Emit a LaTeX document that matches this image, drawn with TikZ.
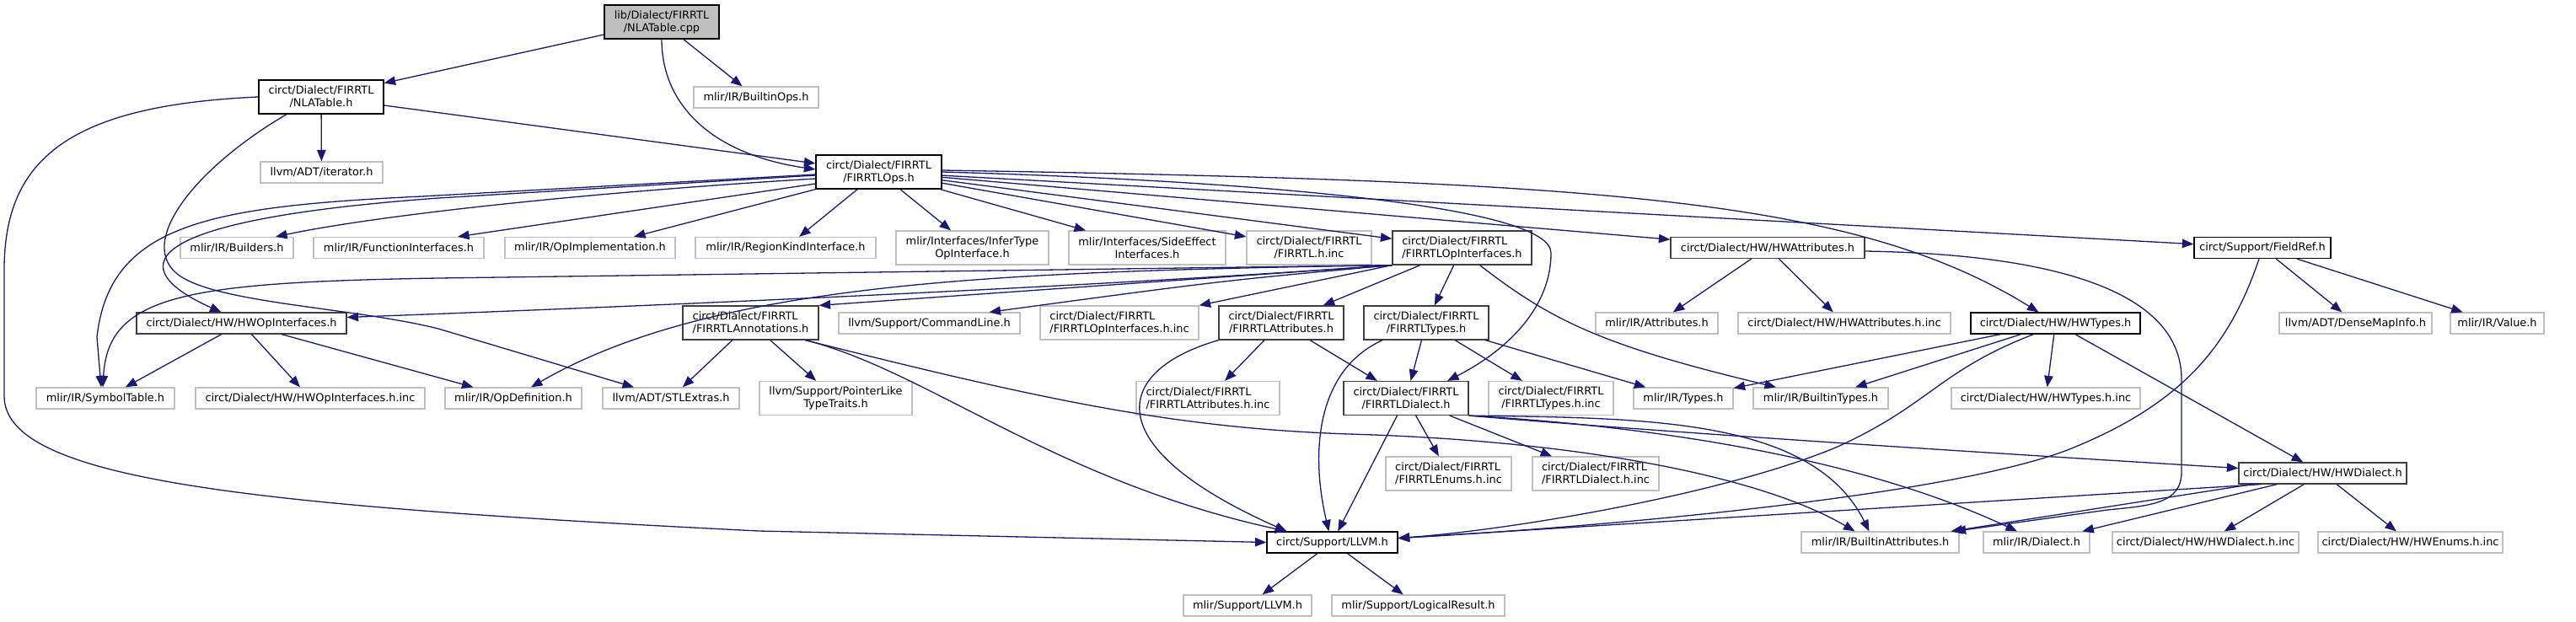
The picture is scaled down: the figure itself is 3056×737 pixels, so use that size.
\documentclass[tikz,border=0pt]{standalone}
\usepackage{fontspec}
\setmainfont{DejaVu Sans}
\usetikzlibrary{arrows.meta}
\definecolor{edgecol}{HTML}{191970}
\definecolor{lightbd}{HTML}{BFBFBF}
\definecolor{darkbd}{HTML}{404040}
\definecolor{rootfill}{HTML}{BFBFBF}
\newcommand{\nodefont}{\fontsize{12.9pt}{15pt}\selectfont}
\begin{document}
\begin{tikzpicture}[x=1pt,y=-1pt,
  nbase/.style={rectangle, inner sep=0pt, line width=1.25pt, font=\nodefont, align=center, text=black},
  gbox/.style={nbase, draw=lightbd},
  bbox/.style={nbase, draw=black},
  dbox/.style={nbase, draw=darkbd},
  rbox/.style={nbase, draw=black, fill=rootfill},
  one/.style={minimum height=25pt},
  two/.style={minimum height=40pt},
  conn/.style={draw=edgecol, line width=1.3pt, -{Triangle[length=13.5pt,width=10.5pt]}}]
\useasboundingbox (0,0) rectangle (3056,737);

% row 1-2
\node[rbox,two,minimum width=136pt] (root) at (785,26) {lib/Dialect/FIRRTL\\/NLATable.cpp};
\node[bbox,two,minimum width=148pt] (nla) at (381,115) {circt/Dialect/FIRRTL\\/NLATable.h};
\node[gbox,one,minimum width=145pt] (iter) at (381.5,204.5) {llvm/ADT/iterator.h};
\node[gbox,one,minimum width=148pt] (bops) at (897,115.5) {mlir/IR/BuiltinOps.h};
\node[bbox,two,minimum width=149pt] (ops) at (1042.5,204) {circt/Dialect/FIRRTL\\/FIRRTLOps.h};
% row 3
\node[gbox,one,minimum width=134pt] (builders) at (281,294) {mlir/IR/Builders.h};
\node[gbox,one,minimum width=202pt] (funcif) at (473,294) {mlir/IR/FunctionInterfaces.h};
\node[gbox,one,minimum width=202pt] (opimpl) at (700,294) {mlir/IR/OpImplementation.h};
\node[gbox,one,minimum width=214pt] (regkind) at (932,294) {mlir/IR/RegionKindInterface.h};
\node[gbox,two,minimum width=181pt] (infer) at (1153.5,294) {mlir/Interfaces/InferType\\OpInterface.h};
\node[gbox,two,minimum width=186pt] (sideeff) at (1361,294) {mlir/Interfaces/SideEffect\\Interfaces.h};
\node[gbox,two,minimum width=148pt] (firinc) at (1553,294) {circt/Dialect/FIRRTL\\/FIRRTL.h.inc};
\node[dbox,two,minimum width=165pt,align=left] (opif) at (1734.5,294) {circt/Dialect/FIRRTL\\/FIRRTLOpInterfaces.h};
\node[dbox,one,minimum width=230pt] (hwattr) at (2097,294) {circt/Dialect/HW/HWAttributes.h};
\node[bbox,one,minimum width=162pt] (fieldref) at (2684,294) {circt/Support/FieldRef.h};
% row 4
\node[dbox,one,minimum width=249pt] (hwopif) at (286.5,383.5) {circt/Dialect/HW/HWOpInterfaces.h};
\node[dbox,two,minimum width=161pt,align=left] (annot) at (890.5,383) {circt/Dialect/FIRRTL\\/FIRRTLAnnotations.h};
\node[gbox,one,minimum width=215pt] (cmdline) at (1102.5,383.5) {llvm/Support/CommandLine.h};
\node[gbox,two,minimum width=188pt,align=left] (opifinc) at (1328,383) {circt/Dialect/FIRRTL\\/FIRRTLOpInterfaces.h.inc};
\node[dbox,two,minimum width=148pt] (fattr) at (1520,383) {circt/Dialect/FIRRTL\\/FIRRTLAttributes.h};
\node[dbox,two,minimum width=148pt] (ftypes) at (1692,383) {circt/Dialect/FIRRTL\\/FIRRTLTypes.h};
\node[gbox,one,minimum width=145pt] (attrs) at (1965.5,383.5) {mlir/IR/Attributes.h};
\node[gbox,one,minimum width=252pt] (hwattrinc) at (2188,383.5) {circt/Dialect/HW/HWAttributes.h.inc};
\node[bbox,one,minimum width=201pt] (hwtypes) at (2438.5,383.5) {circt/Dialect/HW/HWTypes.h};
\node[gbox,one,minimum width=181pt] (dmi) at (2794.5,383.5) {llvm/ADT/DenseMapInfo.h};
\node[gbox,one,minimum width=111pt] (value) at (2962.5,383.5) {mlir/IR/Value.h};
% row 5
\node[gbox,one,minimum width=164pt] (symtab) at (125,472.5) {mlir/IR/SymbolTable.h};
\node[gbox,one,minimum width=272pt] (hwopifinc) at (368,472.5) {circt/Dialect/HW/HWOpInterfaces.h.inc};
\node[gbox,one,minimum width=162pt] (opdef) at (609,472.5) {mlir/IR/OpDefinition.h};
\node[gbox,one,minimum width=162pt] (stl) at (796,472.5) {llvm/ADT/STLExtras.h};
\node[gbox,two,minimum width=181pt] (ptl) at (991.5,472.5) {llvm/Support/PointerLike\\TypeTraits.h};
\node[gbox,two,minimum width=170pt,align=left] (fattrinc) at (1433,472.5) {circt/Dialect/FIRRTL\\/FIRRTLAttributes.h.inc};
\node[dbox,two,minimum width=148pt] (fdialect) at (1668,472.5) {circt/Dialect/FIRRTL\\/FIRRTLDialect.h};
\node[gbox,two,minimum width=148pt] (ftypesinc) at (1840,472.5) {circt/Dialect/FIRRTL\\/FIRRTLTypes.h.inc};
\node[gbox,one,minimum width=118pt] (types) at (1997,472.5) {mlir/IR/Types.h};
\node[gbox,one,minimum width=160pt] (btypes) at (2160,472.5) {mlir/IR/BuiltinTypes.h};
\node[gbox,one,minimum width=224pt] (hwtypesinc) at (2427,472.5) {circt/Dialect/HW/HWTypes.h.inc};
% row 6
\node[gbox,two,minimum width=149pt,align=left] (fenums) at (1718.5,562) {circt/Dialect/FIRRTL\\/FIRRTLEnums.h.inc};
\node[gbox,two,minimum width=150pt,align=left] (fdialinc) at (1893,562) {circt/Dialect/FIRRTL\\/FIRRTLDialect.h.inc};
\node[dbox,one,minimum width=199pt] (hwdialect) at (2755.5,561.5) {circt/Dialect/HW/HWDialect.h};
% row 7
\node[bbox,one,minimum width=155pt] (llvm) at (1580.5,643.5) {circt/Support/LLVM.h};
\node[gbox,one,minimum width=187pt] (battrs) at (2230.5,643.5) {mlir/IR/BuiltinAttributes.h};
\node[gbox,one,minimum width=126pt] (dialect) at (2416,643.5) {mlir/IR/Dialect.h};
\node[gbox,one,minimum width=221pt] (hwdialinc) at (2616.5,643.5) {circt/Dialect/HW/HWDialect.h.inc};
\node[gbox,one,minimum width=219pt] (hwenums) at (2859.5,643.5) {circt/Dialect/HW/HWEnums.h.inc};
% row 8
\node[gbox,one,minimum width=152pt] (mllvm) at (1480,718.5) {mlir/Support/LLVM.h};
\node[gbox,one,minimum width=205pt] (logres) at (1682.5,718.5) {mlir/Support/LogicalResult.h};

% ---- edges ----
% root
\draw[conn] (root) -- (nla);
\draw[conn] (root.south) .. controls (785,125) and (845,183) .. ([yshift=3pt]ops.west);
\draw[conn] (root) -- (bops);
% NLATable.h
\draw[conn] (nla) -- (iter);
\draw[conn] (nla) -- (ops);
\draw[conn] (nla.west) .. controls (80,125) and (5,190) .. (5,320) -- (5,470) .. controls (5,570) and (300,600) .. (900,630) -- (llvm.west);
\draw[conn] ([xshift=-41pt]nla.south) .. controls (230,200) and (160,290) .. (213,327) .. controls (260,360) and (420,365) .. (520,390) -- ([xshift=-44pt]stl.north);
% FIRRTLOps.h
\draw[conn] ([yshift=-3pt]ops.west) -- (500,233) .. controls (250,245) and (130,265) .. (115,400) -- ([xshift=-5pt]symtab.north);
\draw[conn] ([yshift=-4pt]ops.west) -- (520,235) .. controls (150,262) and (150,320) .. ([xshift=-24pt]hwopif.north);
\draw[conn] ([yshift=-8pt]ops.west) .. controls (700,228) and (450,255) .. ([xshift=46pt]builders.north);
\draw[conn] ([yshift=-14pt]ops.west) -- ([xshift=70pt]funcif.north);
\draw[conn] (ops.south west) -- ([xshift=52pt]opimpl.north);
\draw[conn] (ops) -- (regkind);
\draw[conn] (ops) -- (infer);
\draw[conn] (ops) -- (sideeff);
\draw[conn] (ops) -- (firinc);
\draw[conn] (ops) -- (opif);
\draw[conn] (ops.east) .. controls (1500,215) and (1840,245) .. (1840,300) .. controls (1840,370) and (1780,420) .. ([xshift=49pt]fdialect.north);
\draw[conn] (ops) -- (hwattr);
\draw[conn] ([yshift=2pt]ops.east) .. controls (1900,215) and (2200,235) .. ([xshift=-20pt]hwtypes.north);
\draw[conn] (ops) -- (fieldref);
% FIRRTLOpInterfaces.h
\draw[conn] (opif.south west) -- (520,330) .. controls (220,335) and (128,350) .. ([xshift=-3pt]symtab.north);
\draw[conn] (opif.south west) .. controls (1300,340) and (800,362) .. ([yshift=7pt]hwopif.east);
\draw[conn] (opif.south west) .. controls (1200,322) and (850,332) .. ([xshift=21pt]opdef.north);
\draw[conn] (opif.south west) -- (annot.north east);
\draw[conn] (opif.south west) .. controls (1450,333) .. ([xshift=71pt]cmdline.north);
\draw[conn] (opif.south west) -- (opifinc.north east);
\draw[conn] (opif) -- (fattr);
\draw[conn] (opif) -- (ftypes);
\draw[conn] ([xshift=21pt]opif.south) .. controls (1840,380) and (1900,410) .. ([xshift=-53pt]btypes.north);
% HWOpInterfaces.h
\draw[conn] (hwopif) -- (symtab);
\draw[conn] (hwopif) -- (hwopifinc);
\draw[conn] (hwopif) -- (opdef);
% FIRRTLAnnotations.h
\draw[conn] (annot) -- (stl);
\draw[conn] (annot) -- (ptl);
\draw[conn] ([xshift=-16pt]annot.south east) .. controls (1250,478) and (1400,508) .. (1600,515) .. controls (1850,522) and (2080,560) .. ([xshift=-30pt]battrs.north);
\draw[conn] ([xshift=-16pt]annot.south east) .. controls (1100,440) and (1250,570) .. ([xshift=-54pt]llvm.north);
% FIRRTLAttributes.h
\draw[conn] (fattr) -- (fattrinc);
\draw[conn] (fattr) -- (fdialect);
\draw[conn] (fattr.south west) .. controls (1320,440) and (1300,530) .. ([xshift=-54pt]llvm.north);
% FIRRTLTypes.h
\draw[conn] ([xshift=-52pt]ftypes.south) .. controls (1560,440) and (1555,540) .. ([xshift=-4pt]llvm.north);
\draw[conn] (ftypes) -- (fdialect);
\draw[conn] (ftypes) -- (ftypesinc);
\draw[conn] (ftypes) -- (types);
% FIRRTLDialect.h
\draw[conn] (fdialect) -- (llvm);
\draw[conn] (fdialect) -- (fenums);
\draw[conn] (fdialect) -- (fdialinc);
\draw[conn] (fdialect.south east) .. controls (1950,496) and (2150,495) .. ([xshift=-13pt]battrs.north);
\draw[conn] (fdialect.south east) .. controls (1950,505) and (2200,540) .. ([xshift=-23pt]dialect.north);
\draw[conn] (fdialect.south east) .. controls (2000,515) and (2400,540) .. ([yshift=6pt]hwdialect.west);
% LLVM.h
\draw[conn] (llvm) -- (mllvm);
\draw[conn] (llvm) -- (logres);
% HWAttributes.h
\draw[conn] (hwattr) -- (attrs);
\draw[conn] (hwattr) -- (hwattrinc);
\draw[conn] ([yshift=-4pt]hwattr.east) .. controls (2450,302) and (2588,350) .. (2588,450) -- (2588,560) .. controls (2588,598) and (2550,600) .. (2500,605) -- ([xshift=-6pt]battrs.north east);
% HWTypes.h
\draw[conn] (hwtypes) -- (types);
\draw[conn] (hwtypes) -- (btypes);
\draw[conn] ([xshift=-26pt]hwtypes.south) .. controls (2300,440) and (2290,480) .. (2180,530) .. controls (2050,585) and (1800,628) .. ([yshift=5pt]llvm.east);
\draw[conn] (hwtypes) -- (hwtypesinc);
\draw[conn] (hwtypes) -- (hwdialect);
% HWDialect.h
\draw[conn] (hwdialect) -- (hwdialinc);
\draw[conn] (hwdialect) -- (hwenums);
\draw[conn] ([xshift=-73pt]hwdialect.south) -- ([yshift=5pt]llvm.east);
\draw[conn] (hwdialect) -- (battrs);
\draw[conn] (hwdialect) -- (dialect);
% FieldRef.h
\draw[conn] (fieldref) -- (dmi);
\draw[conn] (fieldref) -- (value);
\draw[conn] ([xshift=-4pt]fieldref.south) .. controls (2645,410) and (2590,480) .. (2450,535) .. controls (2300,590) and (1900,625) .. ([yshift=5pt]llvm.east);
\end{tikzpicture}
\end{document}
